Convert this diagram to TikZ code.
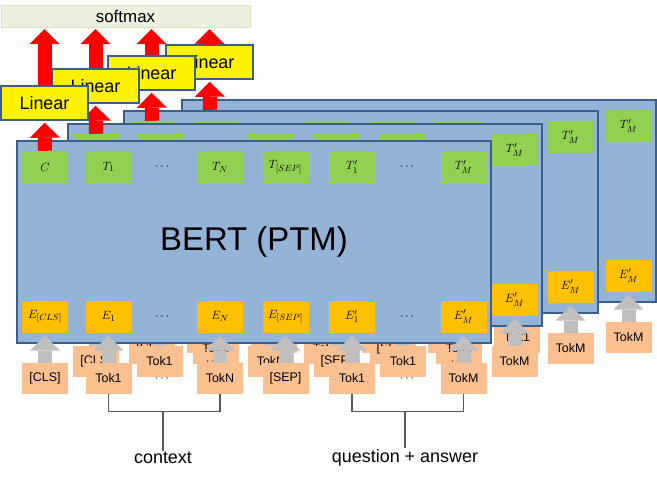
\documentclass[tikz,border=0pt]{standalone}
\usepackage{amsmath}
\usepackage{fontspec}
\setmainfont{Liberation Sans}
\usetikzlibrary{arrows.meta}

\definecolor{bertblue}{HTML}{95B3D7}
\definecolor{bertline}{HTML}{3A5F8B}
\definecolor{outgreen}{HTML}{92D050}
\definecolor{embyellow}{HTML}{FFC000}
\definecolor{tokpeach}{HTML}{FAC090}
\definecolor{arrowgray}{HTML}{BFBFBF}
\definecolor{softfill}{HTML}{EBF1DE}
\definecolor{softline}{HTML}{D7E4BD}

\tikzset{
  bertbox/.style={draw=bertline, line width=1.5bp, fill=bertblue, inner sep=0pt,
    minimum width=474bp, minimum height=202bp, font=\fontsize{33}{33}\selectfont},
  outbox/.style={fill=outgreen, inner sep=0pt, minimum width=46bp,
    minimum height=32bp, font=\fontsize{13}{13}\selectfont},
  embbox/.style={outbox, fill=embyellow},
  rowdots/.style={font=\fontsize{13}{13}\selectfont},
  tokbox/.style={fill=tokpeach, inner sep=0pt, minimum width=46bp,
    minimum height=31bp, font=\fontsize{12.5}{12.5}\selectfont},
  linbox/.style={draw=bertline, line width=1.5bp, fill=yellow, inner sep=0pt,
    minimum width=87bp, minimum height=34bp, font=\fontsize{18}{18}\selectfont},
  fatup/.style={line width=14bp, -{Triangle[length=15bp,width=30bp,line width=0pt]},
    shorten >=#1},
  redup/.style={fatup=#1, draw=red},
  grayup/.style={fatup=#1, draw=arrowgray},
  bracket/.style={draw=black!65, line width=1.3bp},
  caption/.style={font=\fontsize{18}{18}\selectfont, inner sep=1bp}
}

\begin{document}
\begin{tikzpicture}[x=1bp, y=-1bp]
    \useasboundingbox (0,0) rectangle (657,479);

    \node[fill=softfill, draw=softline, minimum width=249bp, minimum height=22bp,
      inner sep=0pt, font=\fontsize{17}{17}\selectfont] (soft) at (125.5,16) {softmax};

    % one copy of the model for every answer, back to front
    \foreach \l/\dx/\dy in {3/165/41, 2/107/30, 1/51/17, 0/0/0}{
      \begin{scope}[shift={(\dx,-\dy)}]
        \node[bertbox] (bert\l) at (254,242) {BERT (PTM)};
        \node[linbox] (lin\l) at (44.5,103) {Linear};
        % output, embedding and token rows
        \foreach \n/\x/\lab/\elab/\klab in {c/45/C/E_{[CLS]}/{[CLS]},
            t1/108.5/T_1/E_1/Tok1, tn/220/T_N/E_N/TokN,
            ts/285.5/T_{[SEP]}/E_{[SEP]}/{[SEP]}, tq/352/T'_1/E'_1/Tok1,
            tm/463.5/T'_M/E'_M/TokM}{
          \node[outbox] (o\n-\l) at (\x,167) {$\lab$};
          \node[embbox] (e\n-\l) at (\x,316.5) {$\elab$};
          \node[tokbox] (k\n-\l) at (\x,378.5) {\klab};
          \draw[grayup=3bp] (k\n-\l.north) -- (e\n-\l.south);
        }
        \foreach \x/\m in {163/a, 408/b}{
          \node[rowdots] (od\m-\l) at (\x,167) {$\cdots$};
          \node[rowdots] (ed\m-\l) at (\x,316.5) {$\cdots$};
          \node[rowdots] (kd\m-\l) at (\x,378.5) {$\cdots$};
        }
        \draw[redup=2bp] (oc-\l.north) -- (lin\l.south);
        \draw[redup=2bp] (lin\l.north) -- (lin\l.north |- soft.south);
      \end{scope}
    }

    % segment brackets
    \node[caption] (ctx) at (163,458) {context};
    \node[caption] (qa) at (405,458) {question + answer};
    \draw[bracket] (kt1-0.south) -- ++(0,17) coordinate (ctxl) -| (ktn-0.south);
    \draw[bracket] (ctx.north) -- (ctx.north |- ctxl);
    \draw[bracket] (ktq-0.south) -- ++(0,17) coordinate (qal) -| (ktm-0.south);
    \draw[bracket] (qa.north) -- (qa.north |- qal);
\end{tikzpicture}
\end{document}
